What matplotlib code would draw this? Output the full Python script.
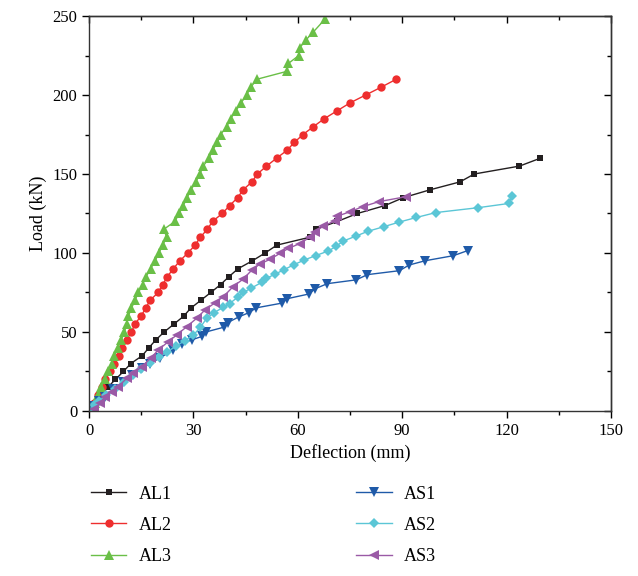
import matplotlib
matplotlib.use("Agg")
import matplotlib.pyplot as plt
from matplotlib.ticker import MultipleLocator

plt.rcParams['font.family'] = ['Liberation Serif', 'DejaVu Serif']

# ---- data ----
al1_x = [0, 1.7, 3.4, 5.4, 7.6, 9.9, 12.0, 15.3, 17.2, 19.2, 21.6, 24.4, 27.2, 29.2, 32.1, 35.0,
         37.8, 40.2, 42.8, 46.9, 50.6, 54.0, 63.5, 65.1, 71.4, 77.1, 85.0, 90.3, 98.0, 106.6,
         110.7, 123.7, 129.7]
al1_y = [0, 5, 10, 15, 20, 25, 30, 35, 40, 45, 50, 55, 60, 65, 70, 75, 80, 85, 90, 95, 100, 105,
         110, 115, 120, 125, 130, 135, 140, 145, 150, 155, 160]

al2_x = [0, 1.3, 2.6, 3.6, 4.6, 6.0, 7.3, 8.6, 9.4, 10.8, 12.2, 13.2, 14.9, 16.3, 17.5, 19.9,
         21.2, 22.5, 24.2, 26.1, 28.4, 30.5, 32.0, 34.0, 35.5, 38.3, 40.4, 42.7, 44.3, 46.8,
         48.4, 51.0, 53.9, 56.9, 59.0, 61.5, 64.5, 67.6, 71.3, 75.0, 79.5, 84.0, 88.3]
al2_y = [0, 5, 10, 15, 20, 25, 30, 35, 40, 45, 50, 55, 60, 65, 70, 75, 80, 85, 90, 95, 100, 105,
         110, 115, 120, 125, 130, 135, 140, 145, 150, 155, 160, 165, 170, 175, 180, 185, 190,
         195, 200, 205, 210]

al3_x = [0, 1.7, 2.7, 3.5, 4.5, 5.5, 6.5, 7.3, 8.3, 9.3, 10.2, 10.8, 11.3, 12.2, 13.2, 14.2,
         15.4, 16.4, 17.7, 19.0, 20.1, 21.2, 22.3, 21.5, 24.7, 25.9, 27.1, 28.2, 29.3, 30.7,
         31.9, 32.8, 34.5, 35.5, 36.9, 37.8, 39.6, 40.7, 42.2, 43.7, 45.3, 46.5, 48.3, 56.9,
         57.3, 60.3, 60.6, 62.4, 64.5, 67.8]
al3_y = [0, 5, 10, 15, 20, 25, 30, 35, 40, 45, 50, 55, 60, 65, 70, 75, 80, 85, 90, 95, 100, 105,
         110, 115, 120, 125, 130, 135, 140, 145, 150, 155, 160, 165, 170, 175, 180, 185, 190,
         195, 200, 205, 210, 215, 220, 225, 230, 235, 240, 248]

as1_x = [0, 1.5, 3.0, 4.6, 7.0, 9.8, 12.3, 15.2, 17.6, 20.3, 24.2, 26.6, 29.5, 32.6, 33.6,
         38.7, 39.8, 43.0, 46.0, 48.1, 55.5, 56.8, 63.1, 65.0, 68.5, 76.8, 80.0, 89.2, 92.0,
         96.6, 104.7, 108.8]
as1_y = [0, 3, 6, 9, 14, 18.5, 22.8, 27, 30, 33.5, 38.6, 42.5, 45, 47.3, 50, 53, 55.9, 59.5,
         62.3, 65.3, 68.3, 71, 74, 77.4, 80.6, 83, 86.3, 88.8, 92.4, 95.1, 98.3, 101.5]

as2_x = [0, 1.5, 3.0, 5.0, 7.5, 10.0, 12.5, 15.0, 17.5, 20.0, 22.5, 25.0, 27.5, 30.0, 32.0,
         33.8, 35.9, 38.5, 40.4, 42.9, 44.3, 46.5, 49.6, 51.0, 53.4, 56.1, 58.9, 61.9, 65.1,
         68.8, 71.0, 73.0, 76.6, 80.1, 84.8, 89.2, 94.1, 99.7, 111.9, 120.8, 121.5]
as2_y = [0, 3.5, 6.5, 10, 14, 18.5, 22.5, 26.5, 30.5, 34, 37.5, 41, 44.5, 48, 53, 58.6, 62.2,
         65.5, 68, 72.3, 75, 77.6, 81.4, 84, 86.5, 89.5, 92.6, 95.6, 98.3, 101.3, 104.2, 107.5,
         110.6, 113.7, 116.7, 119.6, 122.5, 125.6, 128.7, 131.4, 135.8]

as3_x = [1.5, 3.2, 4.6, 6.5, 8.4, 10.8, 12.7, 15.1, 17.7, 19.9, 22.8, 25.2, 28.1, 30.9, 33.3,
         36.2, 38.6, 41.4, 44.3, 46.8, 49.1, 52.0, 54.9, 57.3, 60.6, 63.5, 64.9, 67.3, 70.7,
         71.2, 75.0, 78.6, 83.3, 91.0]
as3_y = [1.5, 4.8, 9, 12.2, 15.4, 20.6, 23.8, 28, 33.3, 38.6, 43.9, 48.1, 53.4, 58.6, 63.9,
         68.5, 72.3, 78.7, 83.5, 89.2, 93, 96, 99.8, 102.9, 106, 110, 113.5, 116.9, 120.5,
         123.2, 126.1, 129.3, 132.5, 135.6]

labels = ["AL1", "AL2", "AL3", "AS1", "AS2", "AS3"]
colors = ["#231f20", "#ee2e2e", "#6abf47", "#1f5aa8", "#5bc6d6", "#9a5aa6"]
markers = ["s", "o", "^", "v", "D", "<"]
msizes = [5, 6, 7, 7, 5, 7]
series = [(al1_x, al1_y), (al2_x, al2_y), (al3_x, al3_y),
          (as1_x, as1_y), (as2_x, as2_y), (as3_x, as3_y)]

fig = plt.figure(figsize=(6.38, 5.76), dpi=100)
ax = fig.add_axes([0.1395, 0.2865, 0.8182, 0.6857])

handles = []
for (x, y), lab, c, m, ms in zip(series, labels, colors, markers, msizes):
    h, = ax.plot(x, y, color=c, marker=m, markersize=ms, linewidth=1.0,
                 markeredgewidth=0, label=lab)
    handles.append(h)

ax.set_xlim(0, 150)
ax.set_ylim(0, 250)
ax.xaxis.set_major_locator(MultipleLocator(30))
ax.xaxis.set_minor_locator(MultipleLocator(15))
ax.yaxis.set_major_locator(MultipleLocator(50))
ax.yaxis.set_minor_locator(MultipleLocator(25))
ax.tick_params(which='both', direction='out', top=False, right=False,
               labelsize=12, width=1.0)
ax.tick_params(which='major', length=5)
ax.tick_params(which='minor', length=3)

# mirrored inward ticks on top/right
sec_x = ax.secondary_xaxis('top')
sec_x.xaxis.set_major_locator(MultipleLocator(30))
sec_x.xaxis.set_minor_locator(MultipleLocator(15))
sec_x.tick_params(which='both', direction='in', labeltop=False, width=1.0)
sec_x.tick_params(which='major', length=5)
sec_x.tick_params(which='minor', length=3)
sec_y = ax.secondary_yaxis('right')
sec_y.yaxis.set_major_locator(MultipleLocator(50))
sec_y.yaxis.set_minor_locator(MultipleLocator(25))
sec_y.tick_params(which='both', direction='in', labelright=False, width=1.0)
sec_y.tick_params(which='major', length=5)
sec_y.tick_params(which='minor', length=3)

for sp in list(ax.spines.values()) + [sec_x.spines['top'], sec_y.spines['right']]:
    sp.set_linewidth(1.0)
    sp.set_color('#333333')

ax.set_xlabel("Deflection (mm)", fontsize=13)
ax.set_ylabel("Load (kN)", fontsize=13)

fig.legend(handles=handles, labels=labels, ncol=2, loc='upper left',
           bbox_to_anchor=(0.1175, 0.185), frameon=False, fontsize=13,
           handlelength=1.95, columnspacing=10.2, labelspacing=0.78,
           handletextpad=0.7)

fig.savefig("out.png", dpi=100)
